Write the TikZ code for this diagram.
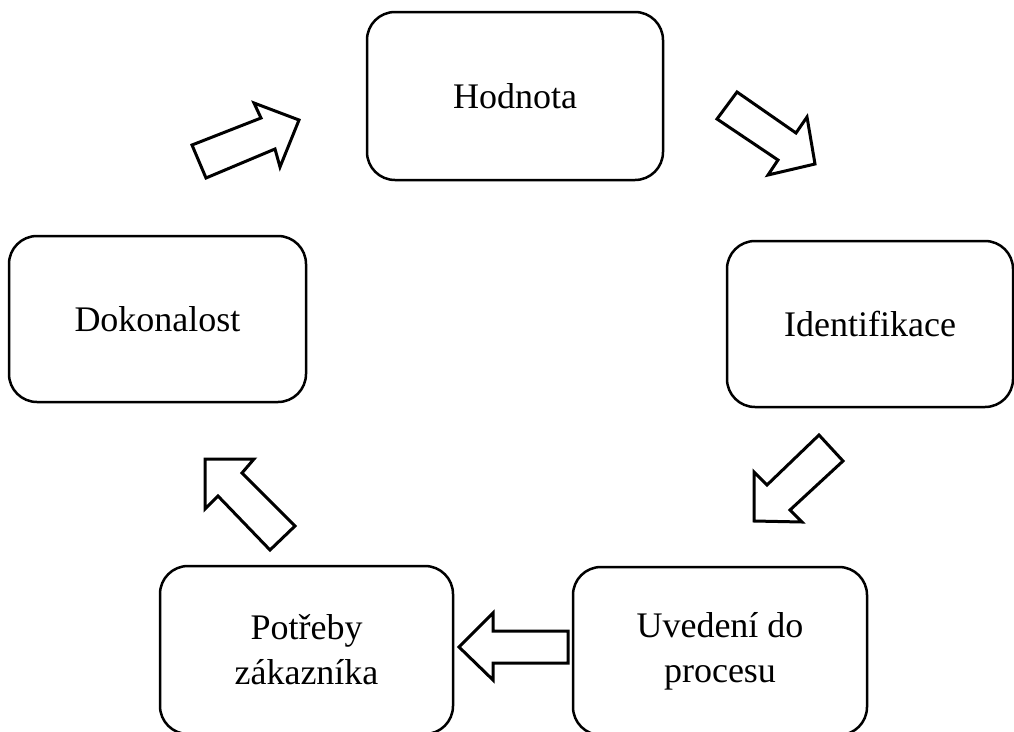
\documentclass[tikz,border=0pt]{standalone}
\usepackage{fontspec}
\setmainfont{Liberation Serif}
\begin{document}
\begin{tikzpicture}[x=1pt,y=-1pt,
  stagebox/.style={draw=black, line width=2.5pt, rounded corners=28pt, fill=white,
    align=center, inner sep=0pt, font=\fontsize{36}{45}\selectfont},
  blockarrow/.style={draw=black, line width=3pt, fill=white, line join=miter}]
\useasboundingbox (0,0) rectangle (1014,731);

% stages of the cycle
\node[stagebox, minimum width=296pt, minimum height=168pt] (hod) at (515,96) {Hodnota};
\node[stagebox, minimum width=286pt, minimum height=166pt] (ide) at (870,324) {Identifikace};
\node[stagebox, minimum width=294pt, minimum height=168pt] (uve) at (720,651) {Uveden\'{\i} do\\procesu};
\node[stagebox, minimum width=293pt, minimum height=168pt] (pot) at (306.5,650) {Pot\v{r}eby\\z\'akazn\'{\i}ka};
\node[stagebox, minimum width=297pt, minimum height=166pt] (dok) at (157.5,319) {Dokonalost};

% hollow block arrows between the stages
\draw[blockarrow] (192,145) -- (261,118) -- (254,103) -- (299,120) -- (280,167) -- (275,149) -- (206,178) -- cycle;
\draw[blockarrow] (737,92) -- (796,133) -- (807,117) -- (815,164) -- (768,175) -- (778,160) -- (717,119) -- cycle;
\draw[blockarrow] (819,435) -- (843,461) -- (790,510) -- (802,522) -- (754,521) -- (754,472) -- (767,485) -- cycle;
\draw[blockarrow] (568,631) -- (493,631) -- (493,613) -- (459,647) -- (493,680) -- (493,663) -- (568,663) -- cycle;
\draw[blockarrow] (205,459) -- (254,459) -- (242,473) -- (295,526) -- (270,550) -- (218,496) -- (205,509) -- cycle;
\end{tikzpicture}
\end{document}
